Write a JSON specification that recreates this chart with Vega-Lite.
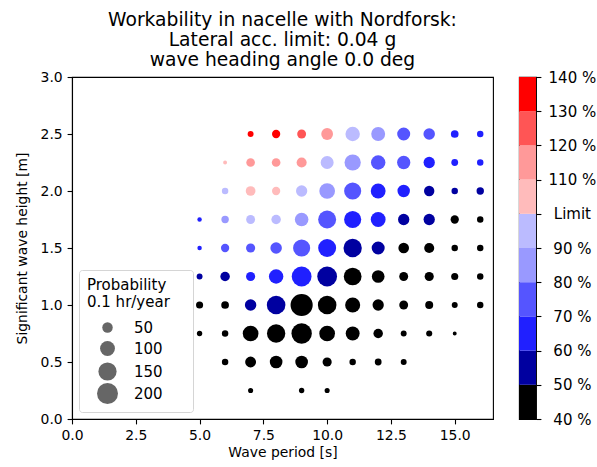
{
  "$schema": "https://vega.github.io/schema/vega-lite/v6.json",
  "padding": {"left": 15, "top": 9, "right": 2, "bottom": 4},
  "background": "white",
  "bounds": "flush",
  "spacing": 26,
  "config": {
    "font": "DejaVu Sans",
    "view": {"stroke": "black", "strokeWidth": 1.1},
    "axis": {
      "labelFont": "DejaVu Sans", "titleFont": "DejaVu Sans",
      "labelFontSize": 13.9, "titleFontSize": 13.9,
      "labelColor": "black", "titleColor": "black", "titleFontWeight": "normal",
      "tickColor": "black", "domainColor": "black", "tickSize": 4.9, "tickWidth": 1.1,
      "domainWidth": 1.1, "labelPadding": 4.9, "grid": false, "labelFlush": false, "labelOverlap": false
    },
    "legend": {"labelFont": "DejaVu Sans", "titleFont": "DejaVu Sans"}
  },
  "resolve": {"scale": {"color": "shared", "size": "independent"}, "legend": {"size": "independent", "color": "independent"}},
  "datasets": {
    "pts": [
      {"T": 7, "Hs": 2.5, "p": 16, "w": 135}, {"T": 8, "Hs": 2.5, "p": 31, "w": 135}, {"T": 9, "Hs": 2.5, "p": 36, "w": 125}, {"T": 10, "Hs": 2.5, "p": 63, "w": 115}, {"T": 11, "Hs": 2.5, "p": 95, "w": 95}, {"T": 12, "Hs": 2.5, "p": 88, "w": 85}, {"T": 13, "Hs": 2.5, "p": 77, "w": 75}, {"T": 14, "Hs": 2.5, "p": 60, "w": 75}, {"T": 15, "Hs": 2.5, "p": 27, "w": 65}, {"T": 16, "Hs": 2.5, "p": 19, "w": 65},
      {"T": 6, "Hs": 2.25, "p": 7, "w": 105}, {"T": 7, "Hs": 2.25, "p": 34, "w": 115}, {"T": 8, "Hs": 2.25, "p": 34, "w": 115}, {"T": 9, "Hs": 2.25, "p": 46, "w": 115}, {"T": 10, "Hs": 2.25, "p": 77, "w": 95}, {"T": 11, "Hs": 2.25, "p": 120, "w": 85}, {"T": 12, "Hs": 2.25, "p": 95, "w": 75}, {"T": 13, "Hs": 2.25, "p": 80, "w": 75}, {"T": 14, "Hs": 2.25, "p": 58, "w": 65}, {"T": 15, "Hs": 2.25, "p": 21, "w": 65}, {"T": 16, "Hs": 2.25, "p": 19, "w": 65},
      {"T": 6, "Hs": 2.0, "p": 19, "w": 95}, {"T": 7, "Hs": 2.0, "p": 43, "w": 105}, {"T": 8, "Hs": 2.0, "p": 31, "w": 105}, {"T": 9, "Hs": 2.0, "p": 58, "w": 95}, {"T": 10, "Hs": 2.0, "p": 112, "w": 85}, {"T": 11, "Hs": 2.0, "p": 133, "w": 75}, {"T": 12, "Hs": 2.0, "p": 100, "w": 65}, {"T": 13, "Hs": 2.0, "p": 70, "w": 65}, {"T": 14, "Hs": 2.0, "p": 49, "w": 55}, {"T": 15, "Hs": 2.0, "p": 19, "w": 55}, {"T": 16, "Hs": 2.0, "p": 25, "w": 55},
      {"T": 5, "Hs": 1.75, "p": 9, "w": 65}, {"T": 6, "Hs": 1.75, "p": 25, "w": 85}, {"T": 7, "Hs": 1.75, "p": 36, "w": 95}, {"T": 8, "Hs": 1.75, "p": 41, "w": 95}, {"T": 9, "Hs": 1.75, "p": 84, "w": 85}, {"T": 10, "Hs": 1.75, "p": 147, "w": 75}, {"T": 11, "Hs": 1.75, "p": 133, "w": 65}, {"T": 12, "Hs": 1.75, "p": 100, "w": 65}, {"T": 13, "Hs": 1.75, "p": 58, "w": 55}, {"T": 14, "Hs": 1.75, "p": 58, "w": 55}, {"T": 15, "Hs": 1.75, "p": 31, "w": 45}, {"T": 16, "Hs": 1.75, "p": 19, "w": 45},
      {"T": 5, "Hs": 1.5, "p": 9, "w": 65}, {"T": 6, "Hs": 1.5, "p": 31, "w": 75}, {"T": 7, "Hs": 1.5, "p": 38, "w": 75}, {"T": 8, "Hs": 1.5, "p": 60, "w": 75}, {"T": 9, "Hs": 1.5, "p": 133, "w": 75}, {"T": 10, "Hs": 1.5, "p": 147, "w": 65}, {"T": 11, "Hs": 1.5, "p": 153, "w": 55}, {"T": 12, "Hs": 1.5, "p": 77, "w": 55}, {"T": 13, "Hs": 1.5, "p": 51, "w": 45}, {"T": 14, "Hs": 1.5, "p": 46, "w": 45}, {"T": 15, "Hs": 1.5, "p": 19, "w": 45}, {"T": 16, "Hs": 1.5, "p": 19, "w": 45},
      {"T": 5, "Hs": 1.25, "p": 16, "w": 55}, {"T": 6, "Hs": 1.25, "p": 41, "w": 55}, {"T": 7, "Hs": 1.25, "p": 38, "w": 65}, {"T": 8, "Hs": 1.25, "p": 95, "w": 65}, {"T": 9, "Hs": 1.25, "p": 178, "w": 65}, {"T": 10, "Hs": 1.25, "p": 178, "w": 55}, {"T": 11, "Hs": 1.25, "p": 143, "w": 45}, {"T": 12, "Hs": 1.25, "p": 73, "w": 45}, {"T": 13, "Hs": 1.25, "p": 36, "w": 45}, {"T": 14, "Hs": 1.25, "p": 38, "w": 45}, {"T": 15, "Hs": 1.25, "p": 23, "w": 45}, {"T": 16, "Hs": 1.25, "p": 19, "w": 45},
      {"T": 5, "Hs": 1.0, "p": 23, "w": 45}, {"T": 6, "Hs": 1.0, "p": 27, "w": 45}, {"T": 7, "Hs": 1.0, "p": 60, "w": 55}, {"T": 8, "Hs": 1.0, "p": 157, "w": 55}, {"T": 9, "Hs": 1.0, "p": 223, "w": 45}, {"T": 10, "Hs": 1.0, "p": 157, "w": 45}, {"T": 11, "Hs": 1.0, "p": 103, "w": 45}, {"T": 12, "Hs": 1.0, "p": 58, "w": 45}, {"T": 13, "Hs": 1.0, "p": 36, "w": 45}, {"T": 14, "Hs": 1.0, "p": 29, "w": 45}, {"T": 15, "Hs": 1.0, "p": 16, "w": 45}, {"T": 16, "Hs": 1.0, "p": 19, "w": 45},
      {"T": 5, "Hs": 0.75, "p": 13, "w": 45}, {"T": 6, "Hs": 0.75, "p": 19, "w": 45}, {"T": 7, "Hs": 0.75, "p": 112, "w": 45}, {"T": 8, "Hs": 0.75, "p": 153, "w": 45}, {"T": 9, "Hs": 0.75, "p": 189, "w": 45}, {"T": 10, "Hs": 0.75, "p": 112, "w": 45}, {"T": 11, "Hs": 0.75, "p": 88, "w": 45}, {"T": 12, "Hs": 0.75, "p": 41, "w": 45}, {"T": 13, "Hs": 0.75, "p": 16, "w": 45}, {"T": 14, "Hs": 0.75, "p": 17, "w": 45}, {"T": 15, "Hs": 0.75, "p": 7, "w": 45},
      {"T": 6, "Hs": 0.5, "p": 19, "w": 45}, {"T": 7, "Hs": 0.5, "p": 54, "w": 45}, {"T": 8, "Hs": 0.5, "p": 73, "w": 45}, {"T": 9, "Hs": 0.5, "p": 73, "w": 45}, {"T": 10, "Hs": 0.5, "p": 38, "w": 45}, {"T": 11, "Hs": 0.5, "p": 19, "w": 45}, {"T": 12, "Hs": 0.5, "p": 21, "w": 45}, {"T": 13, "Hs": 0.5, "p": 16, "w": 45},
      {"T": 7, "Hs": 0.25, "p": 12, "w": 45}, {"T": 9, "Hs": 0.25, "p": 13, "w": 45}, {"T": 10, "Hs": 0.25, "p": 12, "w": 45}
    ],
    "bins": [
      {"lo": 40, "hi": 50, "w": 45}, {"lo": 50, "hi": 60, "w": 55}, {"lo": 60, "hi": 70, "w": 65}, {"lo": 70, "hi": 80, "w": 75}, {"lo": 80, "hi": 90, "w": 85},
      {"lo": 90, "hi": 100, "w": 95}, {"lo": 100, "hi": 110, "w": 105}, {"lo": 110, "hi": 120, "w": 115}, {"lo": 120, "hi": 130, "w": 125}, {"lo": 130, "hi": 140, "w": 135}
    ]
  },
  "hconcat": [
    {
      "width": 421,
      "height": 342,
      "title": {
        "text": ["Workability in nacelle with Nordforsk:", "Lateral acc. limit: 0.04 g", "wave heading angle 0.0 deg"],
        "font": "DejaVu Sans", "fontSize": 18.7, "fontWeight": "normal", "color": "black",
        "lineHeight": 20.4, "anchor": "middle", "offset": 0
      },
      "data": {"name": "pts"},
      "mark": {"type": "circle", "opacity": 1, "strokeWidth": 0},
      "encoding": {
        "x": {"field": "T", "type": "quantitative", "scale": {"domain": [0, 16.5], "nice": false, "zero": false},
              "axis": {"title": "Wave period [s]", "values": [0, 2.5, 5, 7.5, 10, 12.5, 15], "format": ".1f", "titlePadding": 3}},
        "y": {"field": "Hs", "type": "quantitative", "scale": {"domain": [0, 3], "nice": false, "zero": false},
              "axis": {"title": "Significant wave height [m]", "values": [0, 0.5, 1, 1.5, 2, 2.5, 3], "format": ".1f", "titlePadding": 10.3}},
        "size": {"field": "p", "type": "quantitative", "scale": {"type": "linear", "domain": [0, 250], "range": [0, 550], "zero": true},
                 "legend": {
                   "title": ["Probability", "0.1 hr/year"],
                   "values": [50, 100, 150, 200],
                   "labelExpr": "datum.label + '\u2800\u2800'",
                   "orient": "bottom-left", "offset": 7, "padding": 8,
                   "titleFontSize": 15, "titleFontWeight": "normal", "titleColor": "black",
                   "titleAlign": "left", "titleAnchor": "start", "titleLineHeight": 17, "titlePadding": 10,
                   "labelFontSize": 15, "labelColor": "black", "labelOffset": 16,
                   "symbolType": "circle", "symbolFillColor": "#666666", "symbolStrokeWidth": 0, "symbolOpacity": 1,
                   "symbolOffset": 10, "gridAlign": "all", "rowPadding": -1.5,
                   "strokeColor": "#d5d5d5", "cornerRadius": 3, "fillColor": "rgba(255,255,255,0.85)"
                 }},
        "color": {"field": "w", "type": "quantitative",
                  "scale": {"type": "threshold", "domain": [50, 60, 70, 80, 90, 100, 110, 120, 130],
                            "range": ["#000000", "#0000a0", "#2020ff", "#5555ff", "#9999ff", "#bbbbff", "#ffbbbb", "#ff9999", "#ff5555", "#ff0000"]},
                  "legend": null}
      }
    },
    {
      "width": 17,
      "height": 342,
      "data": {"name": "bins"},
      "mark": {"type": "rect"},
      "encoding": {
        "y": {"field": "lo", "type": "quantitative", "scale": {"domain": [40, 140], "nice": false, "zero": false},
              "axis": {"orient": "right", "title": null, "values": [40, 50, 60, 70, 80, 90, 100, 110, 120, 130, 140],
                       "labelExpr": "datum.value == 100 ? 'Limit' : datum.value + ' %'", "labelAlign": "center",
                       "labelFontSize": 15, "labelPadding": 31, "domain": false}},
        "y2": {"field": "hi"},
        "color": {"field": "w", "type": "quantitative",
                  "scale": {"type": "threshold", "domain": [50, 60, 70, 80, 90, 100, 110, 120, 130],
                            "range": ["#000000", "#0000a0", "#2020ff", "#5555ff", "#9999ff", "#bbbbff", "#ffbbbb", "#ff9999", "#ff5555", "#ff0000"]},
                  "legend": null}
      }
    }
  ]
}
